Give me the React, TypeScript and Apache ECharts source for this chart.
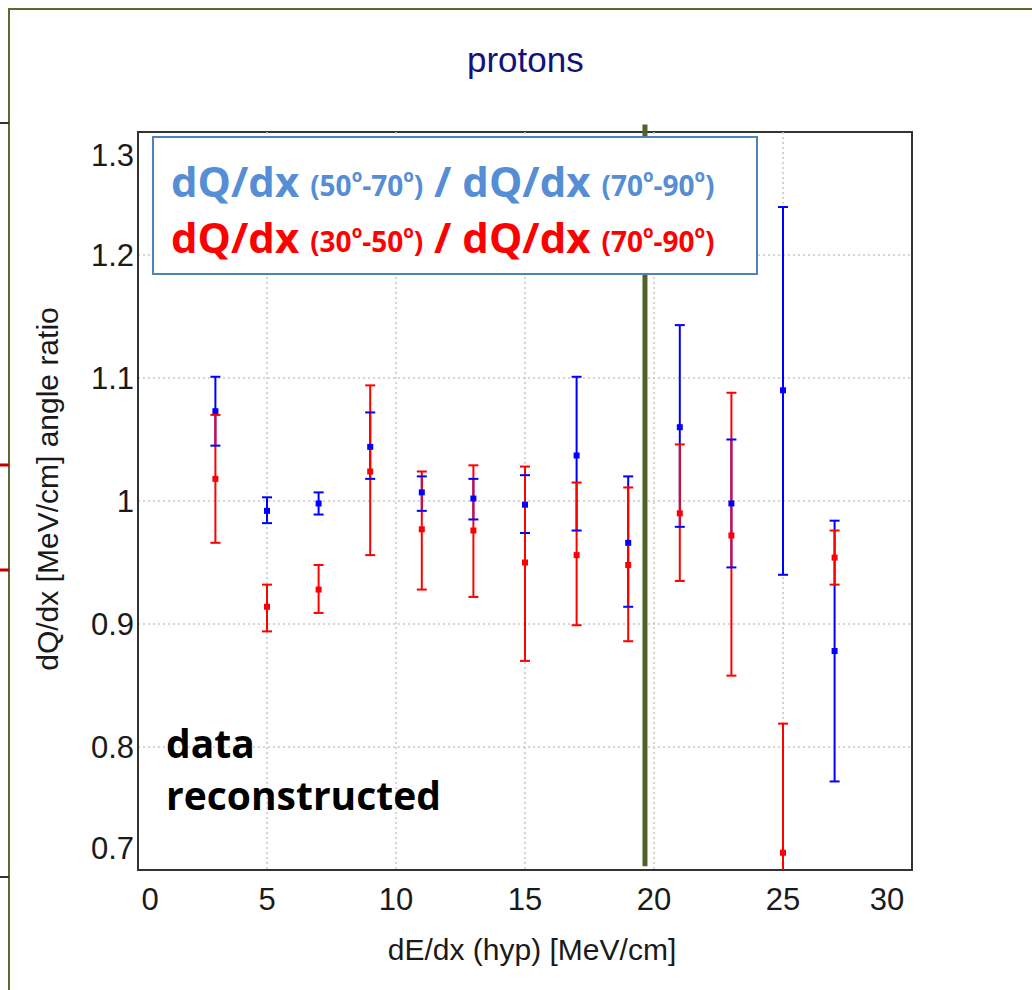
import React, { useEffect, useRef } from 'react';
import * as echarts from 'echarts';

// ---- data ----
const xCenters = [3, 5, 7, 9, 11, 13, 15, 17, 19, 21, 23, 25, 27];

// dQ/dx (50-70) / dQ/dx (70-90)  (blue)
const blueValues = [1.073, 0.992, 0.998, 1.044, 1.007, 1.002, 0.997, 1.037, 0.966, 1.060, 0.998, 1.090, 0.878];
const blueUpper = [1.101, 1.003, 1.007, 1.072, 1.020, 1.018, 1.021, 1.101, 1.020, 1.143, 1.050, 1.239, 0.984];
const blueLower = [1.045, 0.982, 0.989, 1.018, 0.992, 0.985, 0.974, 0.976, 0.914, 0.979, 0.946, 0.940, 0.772];

// dQ/dx (30-50) / dQ/dx (70-90)  (red)
const redValues = [1.018, 0.914, 0.928, 1.024, 0.977, 0.976, 0.950, 0.956, 0.948, 0.990, 0.972, 0.714, 0.954];
const redUpper = [1.070, 0.932, 0.948, 1.094, 1.024, 1.029, 1.028, 1.015, 1.011, 1.046, 1.088, 0.819, 0.976];
const redLower = [0.966, 0.894, 0.909, 0.956, 0.928, 0.922, 0.870, 0.899, 0.886, 0.935, 0.858, 0.609, 0.932];

// vertical divider line
const dividerX = [19.65];
const dividerTop = [1.306];
const dividerBottom = [0.703];

const xMin = 0, xMax = 30, xStep = 5;
const yMin = 0.7, yMax = 1.3, yStep = 0.1;

const titleText = 'protons';
const xAxisTitle = 'dE/dx (hyp) [MeV/cm]';
const yAxisTitle = 'dQ/dx [MeV/cm] angle ratio';
const noteLines = ['data', 'reconstructed'];
const legendBlue = ['dQ/dx ', '(50', '-70', ')', ' / dQ/dx ', '(70', '-90', ')'];
const legendRed = ['dQ/dx ', '(30', '-50', ')', ' / dQ/dx ', '(70', '-90', ')'];

const BLUE = '#0000ff';
const RED = '#ff0000';
const LEG_BLUE = '#558ed5';
const LEG_RED = '#ff0000';
const AXIS_FONT = "'Liberation Sans', Arial, sans-serif";
const LEG_FONT = "'Open Sans', 'Noto Sans', sans-serif";

const barsRenderer = (color: string) => (params: any, api: any) => {
  const x = api.value(0);
  const a = api.coord([x, api.value(3)]);
  const b = api.coord([x, api.value(2)]);
  return {
    type: 'line',
    shape: { x1: a[0], y1: a[1], x2: b[0], y2: b[1] },
    style: { stroke: color, lineWidth: 2 },
  };
};

const capsRenderer = (color: string) => (params: any, api: any) => {
  const x = api.value(0);
  const c = api.coord([x, api.value(1)]);
  const a = api.coord([x, api.value(3)]);
  const b = api.coord([x, api.value(2)]);
  const hw = 5;
  return {
    type: 'group',
    children: [
      { type: 'line', shape: { x1: a[0] - hw, y1: a[1], x2: a[0] + hw, y2: a[1] }, style: { stroke: color, lineWidth: 2 } },
      { type: 'line', shape: { x1: b[0] - hw, y1: b[1], x2: b[0] + hw, y2: b[1] }, style: { stroke: color, lineWidth: 2 } },
      { type: 'rect', shape: { x: c[0] - 3, y: c[1] - 3, width: 6, height: 6 }, style: { fill: color } },
    ],
  };
};

const dividerRenderer = (params: any, api: any) => {
  const x = api.value(0);
  const a = api.coord([x, api.value(1)]);
  const b = api.coord([x, api.value(2)]);
  return {
    type: 'line',
    shape: { x1: a[0], y1: a[1], x2: b[0], y2: b[1] },
    style: { stroke: '#4f6228', lineWidth: 5 },
  };
};

const legendRich = (fill: string) => ({
  b: { fontSize: 42, fontWeight: 'bold', fontFamily: LEG_FONT, fill },
  s: { fontSize: 28, fontWeight: 'bold', fontFamily: LEG_FONT, fill, padding: [9, 0, 0, 0] },
  o: { fontSize: 17, fontWeight: 'bold', fontFamily: LEG_FONT, fill, padding: [0, 0, 10, 0] },
});

const legendText = (p: string[]) =>
  `{b|${p[0]}}{s|${p[1]}}{o|o}{s|${p[2]}}{o|o}{s|${p[3]}}{b|${p[4]}}{s|${p[5]}}{o|o}{s|${p[6]}}{o|o}{s|${p[7]}}`;

export default function App() {
  const ref = useRef<HTMLDivElement>(null);

  useEffect(() => {
    if (!ref.current) return;
    const chart = echarts.init(ref.current, null, { renderer: 'svg' });

    const blueData = xCenters.map((x, i) => [x, blueValues[i], blueLower[i], blueUpper[i]]);
    const redData = xCenters.map((x, i) => [x, redValues[i], redLower[i], redUpper[i]]);
    const dividerData = dividerX.map((x, i) => [x, dividerTop[i], dividerBottom[i]]);

    const labelBase = { fontSize: 31, fontFamily: AXIS_FONT, color: '#1a1a1a' };
    const split = {
      show: true,
      showMinLine: false,
      showMaxLine: false,
      lineStyle: { color: '#c8c8c8', width: 1.5, type: [2, 3] },
    };

    chart.setOption({
      animation: false,
      backgroundColor: '#ffffff',
      title: {
        text: titleText,
        left: 462,
        top: 37,
        textStyle: { fontSize: 35, fontWeight: 'normal', fontFamily: AXIS_FONT, color: '#12127a' },
      },
      grid: {
        left: 138,
        right: 120,
        top: 132,
        bottom: 120,
        show: true,
        borderColor: '#333333',
        borderWidth: 2,
        backgroundColor: 'transparent',
      },
      xAxis: {
        type: 'value',
        min: xMin,
        max: xMax,
        interval: xStep,
        name: xAxisTitle,
        nameLocation: 'middle',
        nameGap: 64,
        nameTextStyle: { fontSize: 30, fontFamily: AXIS_FONT, color: '#1a1a1a', padding: [0, 0, 0, 14] },
        axisLine: { show: true, lineStyle: { color: '#333333', width: 2 } },
        axisTick: { show: false },
        splitLine: split,
        axisLabel: {
          ...labelBase,
          margin: 14,
          formatter: (v: number) => {
            const s = String(Math.round(v));
            if (Math.abs(v - xMin) < 1e-6) return `{l|${s}}`;
            if (Math.abs(v - xMax) < 1e-6) return `{r|${s}}`;
            return s;
          },
          rich: {
            l: { ...labelBase, padding: [0, 0, 0, 24] },
            r: { ...labelBase, padding: [0, 50, 0, 0] },
          },
        },
      },
      yAxis: {
        type: 'value',
        min: yMin,
        max: yMax,
        interval: yStep,
        name: yAxisTitle,
        nameLocation: 'middle',
        nameGap: 76,
        nameTextStyle: { fontSize: 30, fontFamily: AXIS_FONT, color: '#1a1a1a', padding: [0, 0, 0, 24] },
        axisLine: { show: true, lineStyle: { color: '#333333', width: 2 } },
        axisTick: { show: false },
        splitLine: split,
        axisLabel: {
          ...labelBase,
          margin: 4,
          formatter: (v: number) => {
            const r = Math.round(v * 10) / 10;
            const s = String(r);
            if (Math.abs(r - yMax) < 1e-6) return `{t|${s}}`;
            if (Math.abs(r - yMin) < 1e-6) return `{b|${s}}`;
            return s;
          },
          rich: {
            t: { ...labelBase, padding: [46, 0, 0, 0] },
            b: { ...labelBase, padding: [0, 0, 44, 0] },
          },
        },
      },
      series: [
        {
          type: 'custom',
          name: 'divider',
          data: dividerData,
          renderItem: dividerRenderer,
          encode: { x: 0, y: 1 },
          clip: false,
          z: 1,
        },
        {
          type: 'custom',
          name: 'blue bars',
          data: blueData,
          renderItem: barsRenderer(BLUE),
          encode: { x: 0, y: 1 },
          clip: true,
          z: 2,
        },
        {
          type: 'custom',
          name: 'red bars',
          data: redData,
          renderItem: barsRenderer(RED),
          encode: { x: 0, y: 1 },
          clip: true,
          z: 3,
        },
        {
          type: 'custom',
          name: 'blue points',
          data: blueData,
          renderItem: capsRenderer(BLUE),
          encode: { x: 0, y: 1 },
          clip: true,
          z: 4,
        },
        {
          type: 'custom',
          name: 'red points',
          data: redData,
          renderItem: capsRenderer(RED),
          encode: { x: 0, y: 1 },
          clip: true,
          z: 5,
        },
      ],
      graphic: [
        // slide frame and edge fragments
        { type: 'line', z: 50, shape: { x1: 8, y1: 9, x2: 1032, y2: 9 }, style: { stroke: '#5b6b2e', lineWidth: 2 } },
        { type: 'line', z: 50, shape: { x1: 9, y1: 9, x2: 9, y2: 990 }, style: { stroke: '#5b6b2e', lineWidth: 2 } },
        { type: 'line', z: 50, shape: { x1: 0, y1: 123, x2: 9, y2: 123 }, style: { stroke: '#333333', lineWidth: 2 } },
        { type: 'line', z: 50, shape: { x1: 0, y1: 877, x2: 9, y2: 877 }, style: { stroke: '#333333', lineWidth: 2 } },
        { type: 'line', z: 50, shape: { x1: 0, y1: 465, x2: 9, y2: 465 }, style: { stroke: '#c00000', lineWidth: 3 } },
        { type: 'line', z: 50, shape: { x1: 0, y1: 570, x2: 9, y2: 570 }, style: { stroke: '#c00000', lineWidth: 3 } },
        // legend box
        {
          type: 'rect',
          z: 100,
          shape: { x: 153, y: 137, width: 604, height: 137 },
          style: { fill: '#ffffff', stroke: '#4f81bd', lineWidth: 2 },
        },
        {
          type: 'text',
          z: 101,
          x: 171,
          y: 180,
          style: { text: legendText(legendBlue), verticalAlign: 'middle', rich: legendRich(LEG_BLUE) },
        },
        {
          type: 'text',
          z: 101,
          x: 171,
          y: 236,
          style: { text: legendText(legendRed), verticalAlign: 'middle', rich: legendRich(LEG_RED) },
        },
        {
          type: 'text',
          z: 101,
          x: 166,
          y: 716,
          style: {
            text: noteLines.join('\n'),
            fontSize: 39,
            fontWeight: 'bold',
            fontFamily: LEG_FONT,
            fill: '#000000',
            lineHeight: 52,
            verticalAlign: 'top',
          },
        },
      ],
    });

    return () => chart.dispose();
  }, []);

  return (
    <div
      ref={ref}
      style={{ position: 'absolute', left: 0, top: 0, width: 1032, height: 990, background: '#ffffff' }}
    />
  );
}
